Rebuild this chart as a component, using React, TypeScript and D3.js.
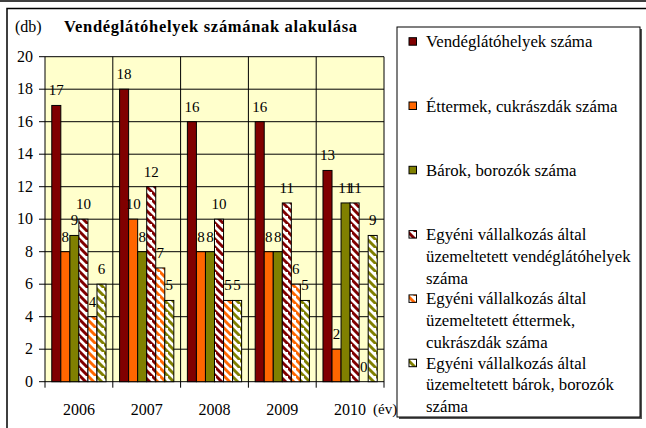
import React from "react";
import * as d3 from "d3";

const years = ["2006", "2007", "2008", "2009", "2010"];
const legendLines = [
  ["Vendéglátóhelyek száma"],
  ["Éttermek, cukrászdák száma"],
  ["Bárok, borozók száma"],
  ["Egyéni vállalkozás által", "üzemeltetett vendéglátóhelyek", "száma"],
  ["Egyéni vállalkozás által", "üzemeltetett éttermek,", "cukrászdák száma"],
  ["Egyéni vállalkozás által", "üzemeltetett bárok, borozók", "száma"],
];
const vendeglatohelyek = [17, 18, 16, 16, 13];
const ettermek = [8, 10, 8, 8, 2];
const barok = [9, 8, 8, 8, 11];
const egyeniVendeglato = [10, 12, 10, 11, 11];
const egyeniEttermek = [4, 7, 5, 6, 0];
const egyeniBarok = [6, 5, 5, 5, 9];
const seriesValues = [vendeglatohelyek, ettermek, barok, egyeniVendeglato, egyeniEttermek, egyeniBarok];
const yTicks = [0, 2, 4, 6, 8, 10, 12, 14, 16, 18, 20];

const colors = ["#800000", "#FF6600", "#808000"];
const striped = [false, false, false, true, true, true];

const FONT = "'Liberation Serif', 'Times New Roman', serif";

export default function App() {
  const W = 646, H = 428;
  const left = 45, right = 384, top = 56.7, bottom = 381.7;
  const x0 = d3.scaleBand<string>().domain(years).range([left, right]).padding(0);
  const x1 = d3.scaleBand<number>().domain(d3.range(6)).range([0, x0.bandwidth()]).paddingInner(0).paddingOuter(0.75);
  const y = d3.scaleLinear().domain([0, 20]).range([bottom, top]);

  const fillFor = (i: number) => (striped[i] ? `url(#stripe${i - 3})` : colors[i]);

  const legendX = 397, legendY = 27, legendW = 243, legendH = 390;
  const itemStart = 41.7, itemStep = 64.3, lineH = 21.7;
  const ts = { fontFamily: FONT } as React.CSSProperties;

  return (
    <svg width={W} height={H} style={{ position: "absolute", left: 0, top: 0, background: "#fff", fontFamily: FONT }}>
      <defs>
        {colors.map((c, i) => (
          <pattern key={i} id={`stripe${i}`} patternUnits="userSpaceOnUse" width={8} height={8}>
            <rect width={8} height={8} fill="#fff" />
            <path d="M-2,-2 L10,10 M-6,2 L2,10 M6,-6 L14,2" stroke={c} strokeWidth={2.9} />
          </pattern>
        ))}
      </defs>
      {/* outer frame */}
      <line x1={0} x2={W} y1={1} y2={1} stroke="#000" strokeWidth={1.5} />
      <rect x={7} y={8.5} width={W + 10} height={H + 10} fill="none" stroke="#000" strokeWidth={1.5} />

      {/* plot background */}
      <rect x={left} y={top} width={right - left} height={bottom - top} fill="#FFFFCC" />
      {yTicks.map((t) => (
        <line key={t} x1={left} x2={right} y1={y(t)} y2={y(t)} stroke="#000" strokeWidth={1} />
      ))}
      {years.map((yr) => (
        <line key={yr} x1={x0(yr)!} x2={x0(yr)!} y1={top} y2={bottom + 6} stroke="#000" strokeWidth={1} />
      ))}
      <line x1={right} x2={right} y1={top} y2={bottom + 6} stroke="#000" strokeWidth={1} />
      {yTicks.map((t) => (
        <line key={"tk" + t} x1={left - 6} x2={left} y1={y(t)} y2={y(t)} stroke="#000" strokeWidth={1} />
      ))}
      {yTicks.map((t) => (
        <text key={"tl" + t} x={33} y={y(t) + 5} textAnchor="end" fontSize={16} style={ts}>
          {t}
        </text>
      ))}

      {/* bars */}
      {seriesValues.map((vals, si) =>
        vals.map((v, yi) => {
          const bx = x0(years[yi])! + x1(si)!;
          return (
            <rect
              key={`b${si}-${yi}`}
              x={bx}
              y={y(v)}
              width={x1.bandwidth()}
              height={bottom - y(v)}
              fill={fillFor(si)}
              stroke="#000"
              strokeWidth={1}
            />
          );
        })
      )}
      {seriesValues.map((vals, si) =>
        vals.map((v, yi) => {
          const bx = x0(years[yi])! + x1(si)! + x1.bandwidth() / 2;
          return (
            <text key={`l${si}-${yi}`} x={bx} y={y(v) - 10} textAnchor="middle" fontSize={15} style={ts}>
              {v}
            </text>
          );
        })
      )}

      {/* x labels */}
      {years.map((yr) => (
        <text key={"xl" + yr} x={x0(yr)! + x0.bandwidth() / 2} y={415} textAnchor="middle" fontSize={16} style={ts}>
          {yr}
        </text>
      ))}
      <text x={373} y={414} fontSize={15} style={ts}>(év)</text>

      {/* titles */}
      <text x={15} y={32} fontSize={16} style={ts}>(db)</text>
      <text x={64} y={32} fontSize={16.5} fontWeight="bold" textLength={293} lengthAdjust="spacing" style={ts}>
        Vendéglátóhelyek számának alakulása
      </text>

      {/* legend */}
      <rect x={legendX + 2} y={legendY + 2} width={legendW} height={legendH} fill="#555" />
      <rect x={legendX} y={legendY} width={legendW} height={legendH} fill="#fff" stroke="#000" strokeWidth={1} />
      {legendLines.map((lines, i) => {
        const cy = itemStart + i * itemStep;
        return (
          <g key={"lg" + i}>
            <rect x={409} y={cy - 4} width={7.5} height={7.5} fill={fillFor(i)} stroke="#000" strokeWidth={1} />
            {lines.map((ln, j) => (
              <text key={j} x={426} y={cy + j * lineH + 5.5} fontSize={16.8} style={ts}>
                {ln}
              </text>
            ))}
          </g>
        );
      })}
    </svg>
  );
}
